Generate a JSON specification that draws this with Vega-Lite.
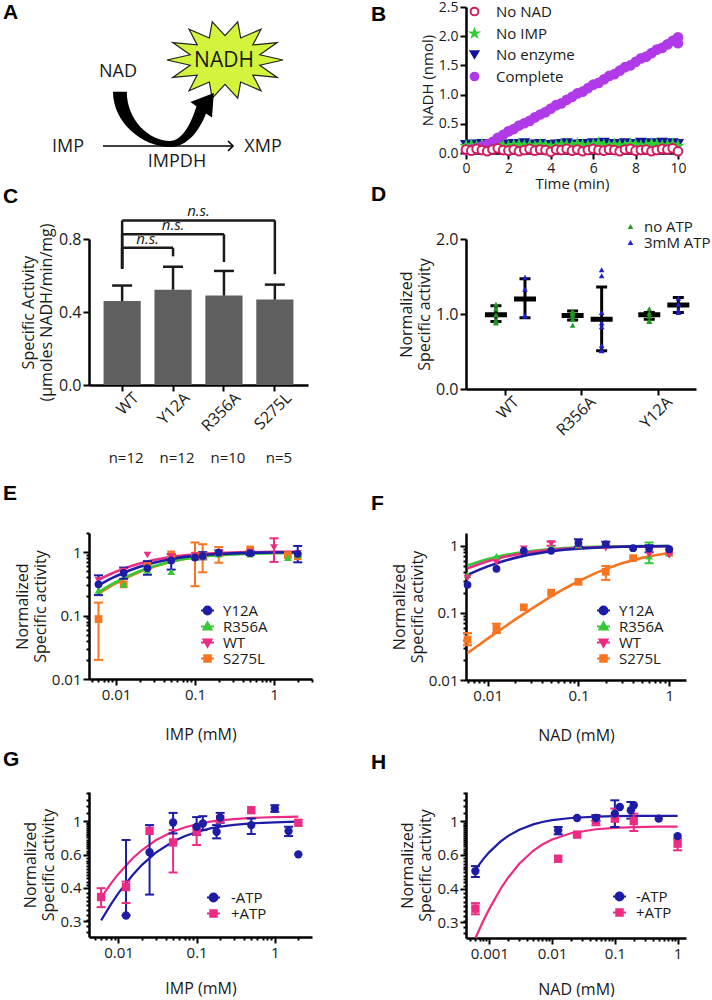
{
"$schema": "https://vega.github.io/schema/vega-lite/v6.json",
"padding": {"left": 3, "top": 0, "right": 0, "bottom": 0},
"bounds": "flush",
"align": "none",
"columns": 2,
"spacing": {"row": 0, "column": 154},
"resolve": {"scale": {"color": "independent", "shape": "independent", "stroke": "independent", "fill": "independent", "xOffset": "independent"}, "legend": {"color": "independent", "shape": "independent", "stroke": "independent", "fill": "independent"}},
"config": {
  "font": "Open Sans",
  "view": {"stroke": null},
  "axis": {"domainColor": "#000000", "domainWidth": 2.5, "tickColor": "#000000", "tickWidth": 2, "tickSize": 6, "labelColor": "#1a1a1a", "labelFont": "Open Sans", "labelFontSize": 15, "titleFont": "Open Sans", "titleFontSize": 16, "titleFontWeight": "normal", "titleColor": "#1a1a1a", "grid": false, "labelPadding": 2, "titlePadding": 4, "labelOverlap": false},
  "legend": {"labelFont": "Open Sans", "labelFontSize": 15, "labelColor": "#1a1a1a"},
  "title": {"font": "Liberation Sans", "fontSize": 21, "fontWeight": "bold", "color": "#000000", "anchor": "start", "frame": "group", "offset": 0, "baseline": "alphabetic"}
},
"datasets": {
  "b": [
    {"time":0,"series":"No enzyme","nadh":0.14},{"time":0.25,"series":"No enzyme","nadh":0.15},{"time":0.5,"series":"No enzyme","nadh":0.13},{"time":0.75,"series":"No enzyme","nadh":0.16},{"time":1,"series":"No enzyme","nadh":0.15},{"time":1.25,"series":"No enzyme","nadh":0.14},{"time":1.5,"series":"No enzyme","nadh":0.17},{"time":1.75,"series":"No enzyme","nadh":0.15},{"time":2,"series":"No enzyme","nadh":0.14},{"time":2.25,"series":"No enzyme","nadh":0.16},{"time":2.5,"series":"No enzyme","nadh":0.15},{"time":2.75,"series":"No enzyme","nadh":0.17},{"time":3,"series":"No enzyme","nadh":0.14},{"time":3.25,"series":"No enzyme","nadh":0.15},{"time":3.5,"series":"No enzyme","nadh":0.16},{"time":3.75,"series":"No enzyme","nadh":0.14},{"time":4,"series":"No enzyme","nadh":0.12},{"time":4.25,"series":"No enzyme","nadh":0.15},{"time":4.5,"series":"No enzyme","nadh":0.16},{"time":4.75,"series":"No enzyme","nadh":0.17},{"time":5,"series":"No enzyme","nadh":0.15},{"time":5.25,"series":"No enzyme","nadh":0.14},{"time":5.5,"series":"No enzyme","nadh":0.16},{"time":5.75,"series":"No enzyme","nadh":0.15},{"time":6,"series":"No enzyme","nadh":0.17},{"time":6.25,"series":"No enzyme","nadh":0.16},{"time":6.5,"series":"No enzyme","nadh":0.18},{"time":6.75,"series":"No enzyme","nadh":0.15},{"time":7,"series":"No enzyme","nadh":0.16},{"time":7.25,"series":"No enzyme","nadh":0.14},{"time":7.5,"series":"No enzyme","nadh":0.17},{"time":7.75,"series":"No enzyme","nadh":0.15},{"time":8,"series":"No enzyme","nadh":0.16},{"time":8.25,"series":"No enzyme","nadh":0.18},{"time":8.5,"series":"No enzyme","nadh":0.15},{"time":8.75,"series":"No enzyme","nadh":0.17},{"time":9,"series":"No enzyme","nadh":0.16},{"time":9.25,"series":"No enzyme","nadh":0.18},{"time":9.5,"series":"No enzyme","nadh":0.15},{"time":9.75,"series":"No enzyme","nadh":0.17},{"time":10,"series":"No enzyme","nadh":0.16},
    {"time":0,"series":"No IMP","nadh":0.12},{"time":0.25,"series":"No IMP","nadh":0.13},{"time":0.5,"series":"No IMP","nadh":0.11},{"time":0.75,"series":"No IMP","nadh":0.14},{"time":1,"series":"No IMP","nadh":0.12},{"time":1.25,"series":"No IMP","nadh":0.13},{"time":1.5,"series":"No IMP","nadh":0.15},{"time":1.75,"series":"No IMP","nadh":0.12},{"time":2,"series":"No IMP","nadh":0.11},{"time":2.25,"series":"No IMP","nadh":0.13},{"time":2.5,"series":"No IMP","nadh":0.14},{"time":2.75,"series":"No IMP","nadh":0.12},{"time":3,"series":"No IMP","nadh":0.13},{"time":3.25,"series":"No IMP","nadh":0.11},{"time":3.5,"series":"No IMP","nadh":0.14},{"time":3.75,"series":"No IMP","nadh":0.13},{"time":4,"series":"No IMP","nadh":0.1},{"time":4.25,"series":"No IMP","nadh":0.12},{"time":4.5,"series":"No IMP","nadh":0.14},{"time":4.75,"series":"No IMP","nadh":0.13},{"time":5,"series":"No IMP","nadh":0.12},{"time":5.25,"series":"No IMP","nadh":0.15},{"time":5.5,"series":"No IMP","nadh":0.13},{"time":5.75,"series":"No IMP","nadh":0.12},{"time":6,"series":"No IMP","nadh":0.14},{"time":6.25,"series":"No IMP","nadh":0.16},{"time":6.5,"series":"No IMP","nadh":0.13},{"time":6.75,"series":"No IMP","nadh":0.12},{"time":7,"series":"No IMP","nadh":0.14},{"time":7.25,"series":"No IMP","nadh":0.13},{"time":7.5,"series":"No IMP","nadh":0.12},{"time":7.75,"series":"No IMP","nadh":0.15},{"time":8,"series":"No IMP","nadh":0.14},{"time":8.25,"series":"No IMP","nadh":0.12},{"time":8.5,"series":"No IMP","nadh":0.13},{"time":8.75,"series":"No IMP","nadh":0.15},{"time":9,"series":"No IMP","nadh":0.14},{"time":9.25,"series":"No IMP","nadh":0.12},{"time":9.5,"series":"No IMP","nadh":0.13},{"time":9.75,"series":"No IMP","nadh":0.14},{"time":10,"series":"No IMP","nadh":0.12},
    {"time":0,"series":"Complete","nadh":0.05},{"time":0.25,"series":"Complete","nadh":0.06},{"time":0.5,"series":"Complete","nadh":0.08},{"time":0.75,"series":"Complete","nadh":0.11},{"time":1,"series":"Complete","nadh":0.15},{"time":1.25,"series":"Complete","nadh":0.19},{"time":1.5,"series":"Complete","nadh":0.26},{"time":1.75,"series":"Complete","nadh":0.31},{"time":2,"series":"Complete","nadh":0.37},{"time":2.25,"series":"Complete","nadh":0.41},{"time":2.5,"series":"Complete","nadh":0.47},{"time":2.75,"series":"Complete","nadh":0.51},{"time":3,"series":"Complete","nadh":0.55},{"time":3.25,"series":"Complete","nadh":0.61},{"time":3.5,"series":"Complete","nadh":0.66},{"time":3.75,"series":"Complete","nadh":0.7},{"time":4,"series":"Complete","nadh":0.76},{"time":4.25,"series":"Complete","nadh":0.82},{"time":4.5,"series":"Complete","nadh":0.85},{"time":4.75,"series":"Complete","nadh":0.91},{"time":5,"series":"Complete","nadh":0.96},{"time":5.25,"series":"Complete","nadh":1.02},{"time":5.5,"series":"Complete","nadh":1.05},{"time":5.75,"series":"Complete","nadh":1.11},{"time":6,"series":"Complete","nadh":1.17},{"time":6.25,"series":"Complete","nadh":1.2},{"time":6.5,"series":"Complete","nadh":1.26},{"time":6.75,"series":"Complete","nadh":1.32},{"time":7,"series":"Complete","nadh":1.35},{"time":7.25,"series":"Complete","nadh":1.41},{"time":7.5,"series":"Complete","nadh":1.47},{"time":7.75,"series":"Complete","nadh":1.5},{"time":8,"series":"Complete","nadh":1.56},{"time":8.25,"series":"Complete","nadh":1.62},{"time":8.5,"series":"Complete","nadh":1.65},{"time":8.75,"series":"Complete","nadh":1.71},{"time":9,"series":"Complete","nadh":1.77},{"time":9.25,"series":"Complete","nadh":1.8},{"time":9.5,"series":"Complete","nadh":1.86},{"time":9.75,"series":"Complete","nadh":1.92},{"time":10,"series":"Complete","nadh":1.98},{"time":10,"series":"Complete","nadh":1.88},
    {"time":0,"series":"No NAD","nadh":0.06},{"time":0.25,"series":"No NAD","nadh":0.04},{"time":0.5,"series":"No NAD","nadh":0.07},{"time":0.75,"series":"No NAD","nadh":0.05},{"time":1,"series":"No NAD","nadh":0.03},{"time":1.25,"series":"No NAD","nadh":0.06},{"time":1.5,"series":"No NAD","nadh":0.08},{"time":1.75,"series":"No NAD","nadh":0.05},{"time":2,"series":"No NAD","nadh":0.04},{"time":2.25,"series":"No NAD","nadh":0.06},{"time":2.5,"series":"No NAD","nadh":0.03},{"time":2.75,"series":"No NAD","nadh":0.05},{"time":3,"series":"No NAD","nadh":0.07},{"time":3.25,"series":"No NAD","nadh":0.04},{"time":3.5,"series":"No NAD","nadh":0.06},{"time":3.75,"series":"No NAD","nadh":0.05},{"time":4,"series":"No NAD","nadh":0.02},{"time":4.25,"series":"No NAD","nadh":0.06},{"time":4.5,"series":"No NAD","nadh":0.05},{"time":4.75,"series":"No NAD","nadh":0.07},{"time":5,"series":"No NAD","nadh":0.04},{"time":5.25,"series":"No NAD","nadh":0.06},{"time":5.5,"series":"No NAD","nadh":0.03},{"time":5.75,"series":"No NAD","nadh":0.05},{"time":6,"series":"No NAD","nadh":0.07},{"time":6.25,"series":"No NAD","nadh":0.05},{"time":6.5,"series":"No NAD","nadh":0.04},{"time":6.75,"series":"No NAD","nadh":0.06},{"time":7,"series":"No NAD","nadh":0.05},{"time":7.25,"series":"No NAD","nadh":0.03},{"time":7.5,"series":"No NAD","nadh":0.06},{"time":7.75,"series":"No NAD","nadh":0.07},{"time":8,"series":"No NAD","nadh":0.04},{"time":8.25,"series":"No NAD","nadh":0.05},{"time":8.5,"series":"No NAD","nadh":0.06},{"time":8.75,"series":"No NAD","nadh":0.03},{"time":9,"series":"No NAD","nadh":0.05},{"time":9.25,"series":"No NAD","nadh":0.07},{"time":9.5,"series":"No NAD","nadh":0.06},{"time":9.75,"series":"No NAD","nadh":0.08},{"time":10,"series":"No NAD","nadh":0.03}
  ],
  "c": [
    {"mutant":"WT","activity":0.46,"err":0.545,"n":"n=12"},
    {"mutant":"Y12A","activity":0.522,"err":0.648,"n":"n=12"},
    {"mutant":"R356A","activity":0.49,"err":0.625,"n":"n=10"},
    {"mutant":"S275L","activity":0.468,"err":0.55,"n":"n=5"}
  ],
  "c_sig": [
    {"left":1,"right":2,"mid":1.5,"base":0.637,"level":0.752,"tip":0.705,"label":"n.s."},
    {"left":1,"right":3,"mid":2,"base":0.637,"level":0.826,"tip":0.674,"label":"n.s."},
    {"left":1,"right":4,"mid":2.5,"base":0.637,"level":0.902,"tip":0.607,"label":"n.s."}
  ],
  "d_pts": [
    {"mutant":"WT","atp":"no ATP","value":1.13},{"mutant":"WT","atp":"no ATP","value":1.07},{"mutant":"WT","atp":"no ATP","value":0.99},{"mutant":"WT","atp":"no ATP","value":0.92},{"mutant":"WT","atp":"no ATP","value":0.89},{"mutant":"WT","atp":"no ATP","value":0.88},
    {"mutant":"WT","atp":"3mM ATP","value":1.49},{"mutant":"WT","atp":"3mM ATP","value":1.33},{"mutant":"WT","atp":"3mM ATP","value":0.97},{"mutant":"WT","atp":"3mM ATP","value":0.98},
    {"mutant":"R356A","atp":"no ATP","value":1.04},{"mutant":"R356A","atp":"no ATP","value":1.02},{"mutant":"R356A","atp":"no ATP","value":1.0},{"mutant":"R356A","atp":"no ATP","value":0.97},{"mutant":"R356A","atp":"no ATP","value":0.93},{"mutant":"R356A","atp":"no ATP","value":0.85},
    {"mutant":"R356A","atp":"3mM ATP","value":1.59},{"mutant":"R356A","atp":"3mM ATP","value":1.51},{"mutant":"R356A","atp":"3mM ATP","value":1.02},{"mutant":"R356A","atp":"3mM ATP","value":0.88},{"mutant":"R356A","atp":"3mM ATP","value":0.83},{"mutant":"R356A","atp":"3mM ATP","value":0.58},{"mutant":"R356A","atp":"3mM ATP","value":0.51},{"mutant":"R356A","atp":"3mM ATP","value":0.52},
    {"mutant":"Y12A","atp":"no ATP","value":1.07},{"mutant":"Y12A","atp":"no ATP","value":1.01},{"mutant":"Y12A","atp":"no ATP","value":0.97},{"mutant":"Y12A","atp":"no ATP","value":0.91},{"mutant":"Y12A","atp":"no ATP","value":0.9},
    {"mutant":"Y12A","atp":"3mM ATP","value":1.21},{"mutant":"Y12A","atp":"3mM ATP","value":1.13},{"mutant":"Y12A","atp":"3mM ATP","value":1.02},{"mutant":"Y12A","atp":"3mM ATP","value":1.05}
  ],
  "d_sum": [
    {"mutant":"WT","atp":"no ATP","mean":0.99,"lo":0.9,"hi":1.11},
    {"mutant":"WT","atp":"3mM ATP","mean":1.2,"lo":0.95,"hi":1.47},
    {"mutant":"R356A","atp":"no ATP","mean":0.98,"lo":0.92,"hi":1.04},
    {"mutant":"R356A","atp":"3mM ATP","mean":0.93,"lo":0.51,"hi":1.36},
    {"mutant":"Y12A","atp":"no ATP","mean":0.99,"lo":0.93,"hi":1.02},
    {"mutant":"Y12A","atp":"3mM ATP","mean":1.12,"lo":1.02,"hi":1.22}
  ],
  "e_fit": [
    {"series":"S275L","conc":0.006,"fit":0.222},{"series":"S275L","conc":0.008,"fit":0.276},{"series":"S275L","conc":0.01,"fit":0.323},{"series":"S275L","conc":0.015,"fit":0.417},{"series":"S275L","conc":0.02,"fit":0.488},{"series":"S275L","conc":0.03,"fit":0.588},{"series":"S275L","conc":0.05,"fit":0.704},{"series":"S275L","conc":0.07,"fit":0.769},{"series":"S275L","conc":0.1,"fit":0.826},{"series":"S275L","conc":0.15,"fit":0.877},{"series":"S275L","conc":0.2,"fit":0.905},{"series":"S275L","conc":0.3,"fit":0.935},{"series":"S275L","conc":0.5,"fit":0.96},{"series":"S275L","conc":0.7,"fit":0.971},{"series":"S275L","conc":1,"fit":0.979},{"series":"S275L","conc":1.5,"fit":0.986},{"series":"S275L","conc":2,"fit":0.99},
    {"series":"R356A","conc":0.006,"fit":0.235},{"series":"R356A","conc":0.008,"fit":0.29},{"series":"R356A","conc":0.01,"fit":0.338},{"series":"R356A","conc":0.015,"fit":0.432},{"series":"R356A","conc":0.02,"fit":0.503},{"series":"R356A","conc":0.03,"fit":0.6},{"series":"R356A","conc":0.05,"fit":0.71},{"series":"R356A","conc":0.07,"fit":0.771},{"series":"R356A","conc":0.1,"fit":0.824},{"series":"R356A","conc":0.15,"fit":0.87},{"series":"R356A","conc":0.2,"fit":0.895},{"series":"R356A","conc":0.3,"fit":0.922},{"series":"R356A","conc":0.5,"fit":0.944},{"series":"R356A","conc":0.7,"fit":0.954},{"series":"R356A","conc":1,"fit":0.962},{"series":"R356A","conc":1.5,"fit":0.968},{"series":"R356A","conc":2,"fit":0.971},
    {"series":"WT","conc":0.006,"fit":0.366},{"series":"WT","conc":0.008,"fit":0.436},{"series":"WT","conc":0.01,"fit":0.493},{"series":"WT","conc":0.015,"fit":0.595},{"series":"WT","conc":0.02,"fit":0.664},{"series":"WT","conc":0.03,"fit":0.752},{"series":"WT","conc":0.05,"fit":0.84},{"series":"WT","conc":0.07,"fit":0.885},{"series":"WT","conc":0.1,"fit":0.921},{"series":"WT","conc":0.15,"fit":0.952},{"series":"WT","conc":0.2,"fit":0.968},{"series":"WT","conc":0.3,"fit":0.985},{"series":"WT","conc":0.5,"fit":0.999},{"series":"WT","conc":0.7,"fit":1.005},{"series":"WT","conc":1,"fit":1.009},{"series":"WT","conc":1.5,"fit":1.013},{"series":"WT","conc":2,"fit":1.015},
    {"series":"Y12A","conc":0.006,"fit":0.3},{"series":"Y12A","conc":0.008,"fit":0.364},{"series":"Y12A","conc":0.01,"fit":0.417},{"series":"Y12A","conc":0.015,"fit":0.517},{"series":"Y12A","conc":0.02,"fit":0.588},{"series":"Y12A","conc":0.03,"fit":0.682},{"series":"Y12A","conc":0.05,"fit":0.781},{"series":"Y12A","conc":0.07,"fit":0.833},{"series":"Y12A","conc":0.1,"fit":0.877},{"series":"Y12A","conc":0.15,"fit":0.915},{"series":"Y12A","conc":0.2,"fit":0.935},{"series":"Y12A","conc":0.3,"fit":0.955},{"series":"Y12A","conc":0.5,"fit":0.973},{"series":"Y12A","conc":0.7,"fit":0.98},{"series":"Y12A","conc":1,"fit":0.986},{"series":"Y12A","conc":1.5,"fit":0.991},{"series":"Y12A","conc":2,"fit":0.993}
  ],
  "e_pts": [
    {"series":"S275L","conc":0.006,"activity":0.088,"lo":0.02,"hi":0.16},{"series":"S275L","conc":0.0125,"activity":0.31},{"series":"S275L","conc":0.025,"activity":0.6},{"series":"S275L","conc":0.05,"activity":0.92},{"series":"S275L","conc":0.1,"activity":0.88,"lo":0.29,"hi":1.42},{"series":"S275L","conc":0.125,"activity":0.86,"lo":0.48,"hi":1.33},{"series":"S275L","conc":0.2,"activity":0.97,"lo":0.68,"hi":1.2},{"series":"S275L","conc":0.5,"activity":1.1},{"series":"S275L","conc":1.5,"activity":0.9},{"series":"S275L","conc":2,"activity":0.86},
    {"series":"R356A","conc":0.006,"activity":0.25},{"series":"R356A","conc":0.0125,"activity":0.31},{"series":"R356A","conc":0.025,"activity":0.52},{"series":"R356A","conc":0.05,"activity":0.49},{"series":"R356A","conc":0.1,"activity":0.83},{"series":"R356A","conc":0.125,"activity":0.86},{"series":"R356A","conc":0.2,"activity":0.93},{"series":"R356A","conc":0.5,"activity":0.93},{"series":"R356A","conc":1.5,"activity":0.82},{"series":"R356A","conc":2,"activity":0.9},
    {"series":"WT","conc":0.006,"activity":0.36},{"series":"WT","conc":0.0125,"activity":0.5},{"series":"WT","conc":0.025,"activity":0.9},{"series":"WT","conc":0.05,"activity":0.85},{"series":"WT","conc":0.1,"activity":0.88},{"series":"WT","conc":0.2,"activity":0.96},{"series":"WT","conc":0.5,"activity":1.0},{"series":"WT","conc":1,"activity":1.18,"lo":0.7,"hi":1.65},{"series":"WT","conc":2,"activity":0.95},
    {"series":"Y12A","conc":0.006,"activity":0.31,"lo":0.21,"hi":0.43},{"series":"Y12A","conc":0.0125,"activity":0.47,"lo":0.38,"hi":0.57},{"series":"Y12A","conc":0.025,"activity":0.56,"lo":0.44,"hi":0.72},{"series":"Y12A","conc":0.05,"activity":0.74,"lo":0.53,"hi":0.93},{"series":"Y12A","conc":0.1,"activity":0.82},{"series":"Y12A","conc":0.125,"activity":0.87,"lo":0.77,"hi":1.0},{"series":"Y12A","conc":0.2,"activity":0.98,"lo":0.9,"hi":1.07},{"series":"Y12A","conc":0.5,"activity":0.96,"lo":0.9,"hi":1.03},{"series":"Y12A","conc":2,"activity":0.94,"lo":0.69,"hi":1.25}
  ],
  "f_fit": [
    {"series":"S275L","conc":0.006,"fit":0.0252},{"series":"S275L","conc":0.008,"fit":0.0333},{"series":"S275L","conc":0.01,"fit":0.0413},{"series":"S275L","conc":0.015,"fit":0.0606},{"series":"S275L","conc":0.02,"fit":0.0792},{"series":"S275L","conc":0.03,"fit":0.114},{"series":"S275L","conc":0.05,"fit":0.176},{"series":"S275L","conc":0.07,"fit":0.229},{"series":"S275L","conc":0.1,"fit":0.297},{"series":"S275L","conc":0.15,"fit":0.385},{"series":"S275L","conc":0.2,"fit":0.452},{"series":"S275L","conc":0.3,"fit":0.548},{"series":"S275L","conc":0.5,"fit":0.66},{"series":"S275L","conc":0.7,"fit":0.723},{"series":"S275L","conc":1,"fit":0.779},
    {"series":"R356A","conc":0.006,"fit":0.508},{"series":"R356A","conc":0.008,"fit":0.58},{"series":"R356A","conc":0.01,"fit":0.633},{"series":"R356A","conc":0.015,"fit":0.721},{"series":"R356A","conc":0.02,"fit":0.775},{"series":"R356A","conc":0.03,"fit":0.838},{"series":"R356A","conc":0.05,"fit":0.896},{"series":"R356A","conc":0.07,"fit":0.923},{"series":"R356A","conc":0.1,"fit":0.945},{"series":"R356A","conc":0.15,"fit":0.963},{"series":"R356A","conc":0.2,"fit":0.972},{"series":"R356A","conc":0.3,"fit":0.981},{"series":"R356A","conc":0.5,"fit":0.989},{"series":"R356A","conc":0.7,"fit":0.992},{"series":"R356A","conc":1,"fit":0.994},
    {"series":"WT","conc":0.006,"fit":0.46},{"series":"WT","conc":0.008,"fit":0.532},{"series":"WT","conc":0.01,"fit":0.586},{"series":"WT","conc":0.015,"fit":0.678},{"series":"WT","conc":0.02,"fit":0.736},{"series":"WT","conc":0.03,"fit":0.805},{"series":"WT","conc":0.05,"fit":0.87},{"series":"WT","conc":0.07,"fit":0.901},{"series":"WT","conc":0.1,"fit":0.926},{"series":"WT","conc":0.15,"fit":0.946},{"series":"WT","conc":0.2,"fit":0.957},{"series":"WT","conc":0.3,"fit":0.968},{"series":"WT","conc":0.5,"fit":0.977},{"series":"WT","conc":0.7,"fit":0.98},{"series":"WT","conc":1,"fit":0.983},
    {"series":"Y12A","conc":0.006,"fit":0.368},{"series":"Y12A","conc":0.008,"fit":0.437},{"series":"Y12A","conc":0.01,"fit":0.493},{"series":"Y12A","conc":0.015,"fit":0.593},{"series":"Y12A","conc":0.02,"fit":0.66},{"series":"Y12A","conc":0.03,"fit":0.745},{"series":"Y12A","conc":0.05,"fit":0.829},{"series":"Y12A","conc":0.07,"fit":0.871},{"series":"Y12A","conc":0.1,"fit":0.906},{"series":"Y12A","conc":0.15,"fit":0.935},{"series":"Y12A","conc":0.2,"fit":0.951},{"series":"Y12A","conc":0.3,"fit":0.966},{"series":"Y12A","conc":0.5,"fit":0.98},{"series":"Y12A","conc":0.7,"fit":0.986},{"series":"Y12A","conc":1,"fit":0.99}
  ],
  "f_pts": [
    {"series":"S275L","conc":0.006,"activity":0.04,"lo":0.033,"hi":0.05},{"series":"S275L","conc":0.0125,"activity":0.059,"lo":0.05,"hi":0.069},{"series":"S275L","conc":0.025,"activity":0.121},{"series":"S275L","conc":0.05,"activity":0.2},{"series":"S275L","conc":0.1,"activity":0.29},{"series":"S275L","conc":0.2,"activity":0.41,"lo":0.31,"hi":0.5},{"series":"S275L","conc":0.4,"activity":0.655},{"series":"S275L","conc":1,"activity":0.79},
    {"series":"R356A","conc":0.006,"activity":0.37},{"series":"R356A","conc":0.0125,"activity":0.7},{"series":"R356A","conc":0.025,"activity":0.86},{"series":"R356A","conc":0.05,"activity":0.98},{"series":"R356A","conc":0.1,"activity":1.02},{"series":"R356A","conc":0.2,"activity":1.1},{"series":"R356A","conc":0.6,"activity":0.7,"lo":0.55,"hi":1.12},{"series":"R356A","conc":1,"activity":0.78},
    {"series":"WT","conc":0.006,"activity":0.33},{"series":"WT","conc":0.0125,"activity":0.56},{"series":"WT","conc":0.025,"activity":0.9},{"series":"WT","conc":0.05,"activity":1.08,"lo":1.0,"hi":1.15},{"series":"WT","conc":0.1,"activity":1.0},{"series":"WT","conc":0.2,"activity":0.92},{"series":"WT","conc":0.6,"activity":0.74},{"series":"WT","conc":1,"activity":0.72},
    {"series":"Y12A","conc":0.006,"activity":0.262},{"series":"Y12A","conc":0.0125,"activity":0.454},{"series":"Y12A","conc":0.025,"activity":0.84},{"series":"Y12A","conc":0.05,"activity":0.84},{"series":"Y12A","conc":0.1,"activity":1.1,"lo":0.97,"hi":1.25},{"series":"Y12A","conc":0.2,"activity":1.05,"lo":0.95,"hi":1.15},{"series":"Y12A","conc":0.4,"activity":0.92},{"series":"Y12A","conc":0.6,"activity":0.91,"lo":0.8,"hi":1.02},{"series":"Y12A","conc":1,"activity":0.89}
  ],
  "g_fit": [
    {"series":"+ATP","conc":0.006,"fit":0.395},{"series":"+ATP","conc":0.008,"fit":0.468},{"series":"+ATP","conc":0.01,"fit":0.527},{"series":"+ATP","conc":0.015,"fit":0.633},{"series":"+ATP","conc":0.02,"fit":0.704},{"series":"+ATP","conc":0.03,"fit":0.793},{"series":"+ATP","conc":0.05,"fit":0.882},{"series":"+ATP","conc":0.07,"fit":0.926},{"series":"+ATP","conc":0.1,"fit":0.963},{"series":"+ATP","conc":0.15,"fit":0.993},{"series":"+ATP","conc":0.2,"fit":1.009},{"series":"+ATP","conc":0.3,"fit":1.025},{"series":"+ATP","conc":0.5,"fit":1.039},{"series":"+ATP","conc":0.7,"fit":1.045},{"series":"+ATP","conc":1,"fit":1.049},{"series":"+ATP","conc":1.5,"fit":1.053},{"series":"+ATP","conc":2,"fit":1.055},
    {"series":"-ATP","conc":0.006,"fit":0.3},{"series":"-ATP","conc":0.008,"fit":0.364},{"series":"-ATP","conc":0.01,"fit":0.417},{"series":"-ATP","conc":0.015,"fit":0.517},{"series":"-ATP","conc":0.02,"fit":0.588},{"series":"-ATP","conc":0.03,"fit":0.682},{"series":"-ATP","conc":0.05,"fit":0.781},{"series":"-ATP","conc":0.07,"fit":0.833},{"series":"-ATP","conc":0.1,"fit":0.877},{"series":"-ATP","conc":0.15,"fit":0.915},{"series":"-ATP","conc":0.2,"fit":0.935},{"series":"-ATP","conc":0.3,"fit":0.955},{"series":"-ATP","conc":0.5,"fit":0.973},{"series":"-ATP","conc":0.7,"fit":0.98},{"series":"-ATP","conc":1,"fit":0.986},{"series":"-ATP","conc":1.5,"fit":0.991},{"series":"-ATP","conc":2,"fit":0.993}
  ],
  "g_pts": [
    {"series":"+ATP","conc":0.006,"activity":0.398,"lo":0.352,"hi":0.443},{"series":"+ATP","conc":0.0125,"activity":0.449,"lo":0.37,"hi":0.48},{"series":"+ATP","conc":0.025,"activity":0.889},{"series":"+ATP","conc":0.05,"activity":0.772,"lo":0.536,"hi":0.897},{"series":"+ATP","conc":0.1,"activity":0.879,"lo":0.748,"hi":0.934},{"series":"+ATP","conc":0.2,"activity":1.024},{"series":"+ATP","conc":0.5,"activity":1.142},{"series":"+ATP","conc":2,"activity":0.98},
    {"series":"-ATP","conc":0.0125,"activity":0.318,"lo":0.318,"hi":0.795},{"series":"-ATP","conc":0.025,"activity":0.685,"lo":0.41,"hi":0.953},{"series":"-ATP","conc":0.05,"activity":0.983,"lo":0.861,"hi":1.105},{"series":"-ATP","conc":0.1,"activity":0.934,"lo":0.845,"hi":1.05},{"series":"-ATP","conc":0.12,"activity":0.971,"lo":0.897,"hi":1.062},{"series":"-ATP","conc":0.18,"activity":0.879,"lo":0.811,"hi":0.953},{"series":"-ATP","conc":0.2,"activity":1.044,"lo":0.98,"hi":1.105},{"series":"-ATP","conc":0.5,"activity":0.953,"lo":0.855,"hi":1.032},{"series":"-ATP","conc":1,"activity":1.164,"lo":1.119,"hi":1.213},{"series":"-ATP","conc":1.5,"activity":0.886,"lo":0.834,"hi":0.934},{"series":"-ATP","conc":2,"activity":0.668}
  ],
  "h_fit": [
    {"series":"+ATP","conc":0.0006,"fit":0.245},{"series":"+ATP","conc":0.0008,"fit":0.301},{"series":"+ATP","conc":0.001,"fit":0.348},{"series":"+ATP","conc":0.0015,"fit":0.441},{"series":"+ATP","conc":0.002,"fit":0.508},{"series":"+ATP","conc":0.003,"fit":0.6},{"series":"+ATP","conc":0.005,"fit":0.701},{"series":"+ATP","conc":0.007,"fit":0.756},{"series":"+ATP","conc":0.01,"fit":0.803},{"series":"+ATP","conc":0.02,"fit":0.866},{"series":"+ATP","conc":0.05,"fit":0.909},{"series":"+ATP","conc":0.1,"fit":0.924},{"series":"+ATP","conc":0.2,"fit":0.932},{"series":"+ATP","conc":0.5,"fit":0.937},{"series":"+ATP","conc":1,"fit":0.938},
    {"series":"-ATP","conc":0.0006,"fit":0.558},{"series":"-ATP","conc":0.0008,"fit":0.634},{"series":"-ATP","conc":0.001,"fit":0.69},{"series":"-ATP","conc":0.0015,"fit":0.783},{"series":"-ATP","conc":0.002,"fit":0.839},{"series":"-ATP","conc":0.003,"fit":0.904},{"series":"-ATP","conc":0.005,"fit":0.964},{"series":"-ATP","conc":0.007,"fit":0.992},{"series":"-ATP","conc":0.01,"fit":1.014},{"series":"-ATP","conc":0.02,"fit":1.041},{"series":"-ATP","conc":0.05,"fit":1.058},{"series":"-ATP","conc":0.1,"fit":1.064},{"series":"-ATP","conc":0.2,"fit":1.067},{"series":"-ATP","conc":0.5,"fit":1.069},{"series":"-ATP","conc":1,"fit":1.069}
  ],
  "h_pts": [
    {"series":"+ATP","conc":0.0006,"activity":0.349,"lo":0.326,"hi":0.373},{"series":"+ATP","conc":0.0125,"activity":0.637},{"series":"+ATP","conc":0.025,"activity":0.852},{"series":"+ATP","conc":0.05,"activity":1.012,"lo":0.953,"hi":1.075},{"series":"+ATP","conc":0.1,"activity":1.033,"lo":0.934,"hi":1.166},{"series":"+ATP","conc":0.2,"activity":1.004,"lo":0.89,"hi":1.097},{"series":"+ATP","conc":1,"activity":0.764,"lo":0.705,"hi":0.811},
    {"series":"-ATP","conc":0.0006,"activity":0.549,"lo":0.511,"hi":0.583},{"series":"-ATP","conc":0.0125,"activity":0.897,"lo":0.855,"hi":0.934},{"series":"-ATP","conc":0.025,"activity":1.041},{"series":"-ATP","conc":0.05,"activity":1.041,"lo":1.004,"hi":1.075},{"series":"-ATP","conc":0.1,"activity":1.097,"lo":0.934,"hi":1.288},{"series":"-ATP","conc":0.12,"activity":1.188},{"series":"-ATP","conc":0.18,"activity":1.142,"lo":1.033,"hi":1.262},{"series":"-ATP","conc":0.2,"activity":1.213},{"series":"-ATP","conc":0.5,"activity":1.033},{"series":"-ATP","conc":1,"activity":0.837}
  ]
},
"concat": [
  {
    "width": 223, "height": 146,
    "title": {"text": "A", "dx": -86, "dy": 20},
    "encoding": {
      "x": {"field": "x", "type": "quantitative", "scale": {"domain": [8.9, 31.2], "nice": false, "zero": false}, "axis": null},
      "y": {"field": "y", "type": "quantitative", "scale": {"domain": [0.8, 15.4], "nice": false, "zero": false, "reverse": true}, "axis": null}
    },
    "layer": [
      {"data": {"values": [{"x": 22.5, "y": 6.1}]}, "mark": {"type": "point", "shape": "M1,0L0.6,0.09L0.9,0.3L0.48,0.26L0.62,0.53L0.27,0.38L0.22,0.66L0,0.42L-0.22,0.66L-0.27,0.38L-0.62,0.53L-0.48,0.26L-0.9,0.3L-0.6,0.09L-1,0L-0.6,-0.09L-0.9,-0.3L-0.48,-0.26L-0.62,-0.53L-0.27,-0.38L-0.22,-0.66L0,-0.42L0.22,-0.66L0.27,-0.38L0.62,-0.53L0.48,-0.26L0.9,-0.3L0.6,-0.09Z", "size": 13456, "filled": true, "fill": "#d2f43c", "stroke": "#222222", "strokeWidth": 1.2, "opacity": 1}},
      {"data": {"values": [{"x": 22.4, "y": 6.2, "label": "NADH"}]}, "mark": {"type": "text", "fontSize": 21, "color": "#1a1a1a"}, "encoding": {"text": {"field": "label"}}},
      {"data": {"values": [{"x": 17.0, "y": 11.5}]}, "mark": {"type": "point", "shape": "M-0.95,-0.37C-0.95,0.15,-0.45,0.55,0,0.55C0.3,0.55,0.5,0.25,0.6,-0.01L0.7,0.06L0.73,-0.35L0.34,-0.2L0.44,-0.13C0.36,0.15,0.2,0.45,0,0.45C-0.35,0.45,-0.72,0.1,-0.72,-0.37Z", "size": 14400, "filled": true, "color": "#000000", "opacity": 1}},
      {"data": {"values": [{"x": 10.3, "x2": 23.2, "y": 14.7}]}, "mark": {"type": "rule", "strokeWidth": 1.6, "color": "#000000"}, "encoding": {"x2": {"field": "x2"}}},
      {"data": {"values": [{"x": 23.3, "y": 14.7}]}, "mark": {"type": "point", "shape": "M-1,-1L0,0L-1,1", "size": 100, "filled": false, "stroke": "#000000", "strokeWidth": 1.6, "opacity": 1}},
      {"data": {"values": [{"x": 11.8, "y": 7.3, "label": "NAD"}, {"x": 6.8, "y": 14.8, "label": "IMP"}, {"x": 26.3, "y": 14.8, "label": "XMP"}, {"x": 17.7, "y": 16.3, "label": "IMPDH"}]}, "mark": {"type": "text", "fontSize": 18, "color": "#1a1a1a"}, "encoding": {"text": {"field": "label"}}}
    ]
  },
  {
    "width": 212, "height": 146,
    "title": {"text": "B", "dx": -95, "dy": 29},
    "data": {"name": "b"},
    "mark": {"type": "point", "filled": false, "strokeWidth": 2, "size": 75, "opacity": 1},
    "encoding": {
      "x": {"field": "time", "type": "quantitative", "scale": {"domain": [0, 10], "nice": false}, "axis": {"title": "Time (min)", "values": [0, 2, 4, 6, 8, 10], "labelFontSize": 14, "titleFontSize": 15, "titlePadding": 1, "labelFlush": false}},
      "y": {"field": "nadh", "type": "quantitative", "scale": {"domain": [0, 2.5], "nice": false}, "axis": {"title": "NADH (nmol)", "values": [0, 0.5, 1, 1.5, 2, 2.5], "format": ".1f", "labelFontSize": 14, "titleFontSize": 15, "titlePadding": 3}},
      "stroke": {"field": "series", "type": "nominal", "scale": {"domain": ["No NAD", "No IMP", "No enzyme", "Complete"], "range": ["#cf1d5f", "#2fd02f", "#12129e", "#b03ae8"]}, "legend": {"orient": "none", "legendX": 1, "legendY": -3, "title": null, "labelFontSize": 15, "rowPadding": 5, "symbolSize": 60, "symbolStrokeWidth": 2, "labelOffset": 14}},
      "fill": {"field": "series", "type": "nominal", "scale": {"domain": ["No NAD", "No IMP", "No enzyme", "Complete"], "range": ["#ffffff", "#2fd02f", "#12129e", "#b03ae8"]}, "legend": {"orient": "none", "legendX": 1, "legendY": -3, "title": null, "labelFontSize": 15, "rowPadding": 5, "symbolSize": 60, "symbolStrokeWidth": 2, "labelOffset": 14}},
      "shape": {"field": "series", "type": "nominal", "scale": {"domain": ["No NAD", "No IMP", "No enzyme", "Complete"], "range": ["circle", "M0,-1L0.24,-0.33L0.95,-0.31L0.38,0.12L0.59,0.81L0,0.4L-0.59,0.81L-0.38,0.12L-0.95,-0.31L-0.24,-0.33Z", "triangle-down", "circle"]}, "legend": {"orient": "none", "legendX": 1, "legendY": -3, "title": null, "labelFontSize": 15, "rowPadding": 5, "symbolSize": 60, "symbolStrokeWidth": 2, "labelOffset": 14}}
    }
  },
  {"width": 10, "height": 86, "data": {"values": []}, "mark": "point"},
  {"width": 10, "height": 86, "data": {"values": []}, "mark": "point"},
  {
    "width": 219, "height": 146,
    "title": {"text": "C", "dx": -86, "dy": 7},
    "resolve": {"scale": {"x": "independent"}},
    "layer": [
      {
        "data": {"name": "c"},
        "encoding": {"x": {"field": "mutant", "type": "nominal", "sort": null, "scale": {"paddingInner": 0.27, "paddingOuter": 0.286}, "axis": {"title": null, "labelAngle": -45, "labelAlign": "right", "labelBaseline": "middle", "labelOffset": 14, "labelPadding": 4, "labelFontSize": 16}}},
        "layer": [
          {"mark": {"type": "bar", "color": "#5f5f5f"}, "encoding": {"y": {"field": "activity", "type": "quantitative", "scale": {"domain": [0, 0.8], "nice": false}, "axis": {"title": ["Specific Activity", "(µmoles NADH/min/mg)"], "values": [0, 0.2, 0.4, 0.6, 0.8], "format": ".1f", "labelFontSize": 16, "titleFontSize": 16, "titlePadding": 4}}}},
          {"mark": {"type": "rule", "strokeWidth": 2.5, "color": "#1a1a1a"}, "encoding": {"y": {"field": "activity", "type": "quantitative", "scale": {"domain": [0, 0.8], "nice": false}}, "y2": {"field": "err"}}},
          {"mark": {"type": "tick", "size": 20, "thickness": 2.5, "color": "#1a1a1a", "opacity": 1}, "encoding": {"y": {"field": "err", "type": "quantitative", "scale": {"domain": [0, 0.8], "nice": false}}}},
          {"mark": {"type": "text", "fontSize": 15, "dx": 4, "color": "#1a1a1a"}, "encoding": {"y": {"datum": -0.4, "type": "quantitative", "scale": {"domain": [0, 0.8], "nice": false}}, "text": {"field": "n"}}}
        ]
      },
      {
        "data": {"name": "c_sig"},
        "encoding": {"x": {"field": "left", "type": "quantitative", "scale": {"domain": [0.349, 4.651], "nice": false, "zero": false}, "axis": null}},
        "layer": [
          {"mark": {"type": "rule", "strokeWidth": 2.5, "color": "#1a1a1a"}, "encoding": {"x2": {"field": "right"}, "y": {"field": "level", "type": "quantitative", "scale": {"domain": [0, 0.8], "nice": false}}}},
          {"mark": {"type": "rule", "strokeWidth": 2.5, "color": "#1a1a1a"}, "encoding": {"y": {"field": "base", "type": "quantitative", "scale": {"domain": [0, 0.8], "nice": false}}, "y2": {"field": "level"}}},
          {"mark": {"type": "rule", "strokeWidth": 2.5, "color": "#1a1a1a"}, "encoding": {"x": {"field": "right", "type": "quantitative", "scale": {"domain": [0.349, 4.651], "nice": false, "zero": false}, "axis": null}, "y": {"field": "tip", "type": "quantitative", "scale": {"domain": [0, 0.8], "nice": false}}, "y2": {"field": "level"}}},
          {"mark": {"type": "text", "fontSize": 15, "fontStyle": "italic", "baseline": "bottom", "dy": -1, "color": "#1a1a1a"}, "encoding": {"x": {"field": "mid", "type": "quantitative", "scale": {"domain": [0.349, 4.651], "nice": false, "zero": false}, "axis": null}, "y": {"field": "level", "type": "quantitative", "scale": {"domain": [0, 0.8], "nice": false}}, "text": {"field": "label"}}}
        ]
      }
    ]
  },
  {
    "width": 230, "height": 150,
    "title": {"text": "D", "dx": -95, "dy": -10},
    "encoding": {
      "x": {"field": "mutant", "type": "nominal", "scale": {"domain": ["WT", "R356A", "Y12A"], "paddingInner": 0, "paddingOuter": 0}, "axis": {"title": null, "labelAngle": -45, "labelAlign": "right", "labelBaseline": "middle", "labelOffset": 12, "labelPadding": 4, "labelFontSize": 16, "bandPosition": 0.51}},
      "xOffset": {"field": "atp", "type": "nominal", "scale": {"domain": ["no ATP", "3mM ATP"], "paddingInner": 0, "paddingOuter": 0.32, "align": 0.83}}
    },
    "layer": [
      {
        "data": {"name": "d_sum"},
        "layer": [
          {"mark": {"type": "rule", "strokeWidth": 3, "color": "#000000"}, "encoding": {"y": {"field": "lo", "type": "quantitative", "scale": {"domain": [0, 2], "nice": false}, "axis": {"title": ["Normalized", "Specific activity"], "values": [0, 0.5, 1, 1.5, 2], "format": ".1f", "labelFontSize": 16, "titlePadding": 3}}, "y2": {"field": "hi"}}},
          {"mark": {"type": "tick", "size": 11, "thickness": 3, "color": "#000000", "opacity": 1}, "encoding": {"y": {"field": "lo", "type": "quantitative", "scale": {"domain": [0, 2], "nice": false}}}},
          {"mark": {"type": "tick", "size": 11, "thickness": 3, "color": "#000000", "opacity": 1}, "encoding": {"y": {"field": "hi", "type": "quantitative", "scale": {"domain": [0, 2], "nice": false}}}},
          {"mark": {"type": "tick", "size": 22, "thickness": 5, "color": "#000000", "opacity": 1}, "encoding": {"y": {"field": "mean", "type": "quantitative", "scale": {"domain": [0, 2], "nice": false}}}}
        ]
      },
      {
        "data": {"name": "d_pts"},
        "mark": {"type": "point", "shape": "triangle-up", "filled": true, "size": 32, "opacity": 1},
        "encoding": {
          "y": {"field": "value", "type": "quantitative", "scale": {"domain": [0, 2], "nice": false}},
          "color": {"field": "atp", "type": "nominal", "scale": {"domain": ["no ATP", "3mM ATP"], "range": ["#209a20", "#1e1ed0"]}, "legend": {"orient": "none", "legendX": 157, "legendY": -20, "title": null, "symbolType": "triangle-up", "symbolSize": 32, "labelFontSize": 15, "rowPadding": 0, "labelOffset": 6}}
        }
      }
    ]
  },
  {"width": 10, "height": 144, "data": {"values": []}, "mark": "point"},
  {"width": 10, "height": 144, "data": {"values": []}, "mark": "point"},
  {
    "width": 223, "height": 146,
    "title": {"text": "E", "dx": -86, "dy": -18},
    "resolve": {"scale": {"shape": "independent", "fill": "independent", "stroke": "independent"}},
    "encoding": {
      "x": {"field": "conc", "type": "quantitative", "scale": {"type": "log", "domain": [0.00455, 3.03], "nice": false}, "axis": {"title": "IMP (mM)", "values": [0.005,0.006,0.007,0.008,0.009,0.01,0.02,0.03,0.04,0.05,0.06,0.07,0.08,0.09,0.1,0.2,0.3,0.4,0.5,0.6,0.7,0.8,0.9,1,2,3], "labelExpr": "datum.value == 1 ? '1' : datum.value == 0.1 ? '0.1' : datum.value == 0.01 ? '0.01' : ''", "tickSize": {"condition": {"test": "indexof([0.01,0.1,1], datum.value) >= 0", "value": 6}, "value": 3}, "labelOverlap": false, "labelFlush": false, "titlePadding": 24}},
      "color": {"field": "series", "type": "nominal", "scale": {"domain": ["Y12A", "R356A", "WT", "S275L"], "range": ["#1c1ca6", "#36c836", "#ec2c84", "#f97420"]}, "legend": null}
    },
    "layer": [
      {"data": {"name": "e_fit"}, "mark": {"type": "line", "strokeWidth": 2.6}, "encoding": {
        "y": {"field": "fit", "type": "quantitative", "scale": {"type": "log", "domain": [0.01, 2], "nice": false}, "axis": {"title": ["Normalized", "Specific activity"], "values": [0.01,0.02,0.03,0.04,0.05,0.06,0.07,0.08,0.09,0.1,0.2,0.3,0.4,0.5,0.6,0.7,0.8,0.9,1,2], "labelExpr": "datum.value == 1 ? '1' : datum.value == 0.1 ? '0.1' : datum.value == 0.01 ? '0.01' : ''", "tickSize": {"condition": {"test": "indexof([0.01,0.1,1], datum.value) >= 0", "value": 6}, "value": 3}, "labelOverlap": false, "labelFlush": false, "titlePadding": 3}}
      }},
      {"data": {"name": "e_pts"}, "transform": [{"filter": "isValid(datum.lo)"}], "layer": [
        {"mark": {"type": "rule", "strokeWidth": 2}, "encoding": {"y": {"field": "lo", "type": "quantitative", "scale": {"type": "log", "domain": [0.01, 2], "nice": false}}, "y2": {"field": "hi"}}},
        {"mark": {"type": "tick", "orient": "horizontal", "size": 9, "thickness": 2, "opacity": 1}, "encoding": {"y": {"field": "lo", "type": "quantitative", "scale": {"type": "log", "domain": [0.01, 2], "nice": false}}}},
        {"mark": {"type": "tick", "orient": "horizontal", "size": 9, "thickness": 2, "opacity": 1}, "encoding": {"y": {"field": "hi", "type": "quantitative", "scale": {"type": "log", "domain": [0.01, 2], "nice": false}}}}
      ]},
      {"data": {"name": "e_pts"}, "mark": {"type": "point", "filled": true, "size": 60, "opacity": 1}, "encoding": {
        "y": {"field": "activity", "type": "quantitative", "scale": {"type": "log", "domain": [0.01, 2], "nice": false}},
        "shape": {"field": "series", "type": "nominal", "scale": {"domain": ["Y12A", "R356A", "WT", "S275L"], "range": ["circle", "triangle-up", "triangle-down", "square"]}, "legend": null}
      }},
      {"data": {"name": "e_fit"}, "mark": {"type": "point", "filled": true, "opacity": 0}, "encoding": {
        "y": {"field": "fit", "type": "quantitative", "scale": {"type": "log", "domain": [0.01, 2], "nice": false}},
        "shape": {"field": "series", "type": "nominal", "scale": {"domain": ["Y12A", "R356A", "WT", "S275L"], "range": ["M-1,0L1,0M0.6,0A0.6,0.6,0,1,1,-0.6,0A0.6,0.6,0,1,1,0.6,0Z", "M-1,0L1,0M0,-0.65L0.62,0.45L-0.62,0.45Z", "M-1,0L1,0M0,0.65L0.62,-0.45L-0.62,-0.45Z", "M-1,0L1,0M-0.5,-0.5L0.5,-0.5L0.5,0.5L-0.5,0.5Z"]}, "legend": {"orient": "none", "legendX": 111, "legendY": 70, "title": null, "symbolSize": 169, "symbolStrokeWidth": 2, "symbolOpacity": 1, "labelFontSize": 15, "rowPadding": -2.5, "labelOffset": 8}},
        "fill": {"field": "series", "type": "nominal", "scale": {"domain": ["Y12A", "R356A", "WT", "S275L"], "range": ["#1c1ca6", "#36c836", "#ec2c84", "#f97420"]}, "legend": {"orient": "none", "legendX": 111, "legendY": 70, "title": null, "symbolSize": 169, "symbolStrokeWidth": 2, "symbolOpacity": 1, "labelFontSize": 15, "rowPadding": -2.5, "labelOffset": 8}},
        "stroke": {"field": "series", "type": "nominal", "scale": {"domain": ["Y12A", "R356A", "WT", "S275L"], "range": ["#1c1ca6", "#36c836", "#ec2c84", "#f97420"]}, "legend": {"orient": "none", "legendX": 111, "legendY": 70, "title": null, "symbolSize": 169, "symbolStrokeWidth": 2, "symbolOpacity": 1, "labelFontSize": 15, "rowPadding": -2.5, "labelOffset": 8}}
      }}
    ]
  },
  {
    "width": 220, "height": 147,
    "title": {"text": "F", "dx": -95, "dy": -15},
    "resolve": {"scale": {"shape": "independent", "fill": "independent", "stroke": "independent"}},
    "encoding": {
      "x": {"field": "conc", "type": "quantitative", "scale": {"type": "log", "domain": [0.00577, 1.53], "nice": false}, "axis": {"title": "NAD (mM)", "values": [0.006,0.007,0.008,0.009,0.01,0.02,0.03,0.04,0.05,0.06,0.07,0.08,0.09,0.1,0.2,0.3,0.4,0.5,0.6,0.7,0.8,0.9,1], "labelExpr": "datum.value == 1 ? '1' : datum.value == 0.1 ? '0.1' : datum.value == 0.01 ? '0.01' : ''", "tickSize": {"condition": {"test": "indexof([0.01,0.1,1], datum.value) >= 0", "value": 6}, "value": 3}, "labelOverlap": false, "labelFlush": false, "titlePadding": 24}},
      "color": {"field": "series", "type": "nominal", "scale": {"domain": ["Y12A", "R356A", "WT", "S275L"], "range": ["#1c1ca6", "#36c836", "#ec2c84", "#f97420"]}, "legend": null}
    },
    "layer": [
      {"data": {"name": "f_fit"}, "mark": {"type": "line", "strokeWidth": 2.6}, "encoding": {
        "y": {"field": "fit", "type": "quantitative", "scale": {"type": "log", "domain": [0.01, 1.55], "nice": false}, "axis": {"title": ["Normalized", "Specific activity"], "values": [0.01,0.02,0.03,0.04,0.05,0.06,0.07,0.08,0.09,0.1,0.2,0.3,0.4,0.5,0.6,0.7,0.8,0.9,1], "labelExpr": "datum.value == 1 ? '1' : datum.value == 0.1 ? '0.1' : datum.value == 0.01 ? '0.01' : ''", "tickSize": {"condition": {"test": "indexof([0.01,0.1,1], datum.value) >= 0", "value": 6}, "value": 3}, "labelOverlap": false, "labelFlush": false, "titlePadding": 3}}
      }},
      {"data": {"name": "f_pts"}, "transform": [{"filter": "isValid(datum.lo)"}], "layer": [
        {"mark": {"type": "rule", "strokeWidth": 2}, "encoding": {"y": {"field": "lo", "type": "quantitative", "scale": {"type": "log", "domain": [0.01, 1.55], "nice": false}}, "y2": {"field": "hi"}}},
        {"mark": {"type": "tick", "orient": "horizontal", "size": 9, "thickness": 2, "opacity": 1}, "encoding": {"y": {"field": "lo", "type": "quantitative", "scale": {"type": "log", "domain": [0.01, 1.55], "nice": false}}}},
        {"mark": {"type": "tick", "orient": "horizontal", "size": 9, "thickness": 2, "opacity": 1}, "encoding": {"y": {"field": "hi", "type": "quantitative", "scale": {"type": "log", "domain": [0.01, 1.55], "nice": false}}}}
      ]},
      {"data": {"name": "f_pts"}, "mark": {"type": "point", "filled": true, "size": 60, "opacity": 1}, "encoding": {
        "y": {"field": "activity", "type": "quantitative", "scale": {"type": "log", "domain": [0.01, 1.55], "nice": false}},
        "shape": {"field": "series", "type": "nominal", "scale": {"domain": ["Y12A", "R356A", "WT", "S275L"], "range": ["circle", "triangle-up", "triangle-down", "square"]}, "legend": null}
      }},
      {"data": {"name": "f_fit"}, "mark": {"type": "point", "filled": true, "opacity": 0}, "encoding": {
        "y": {"field": "fit", "type": "quantitative", "scale": {"type": "log", "domain": [0.01, 1.55], "nice": false}},
        "shape": {"field": "series", "type": "nominal", "scale": {"domain": ["Y12A", "R356A", "WT", "S275L"], "range": ["M-1,0L1,0M0.6,0A0.6,0.6,0,1,1,-0.6,0A0.6,0.6,0,1,1,0.6,0Z", "M-1,0L1,0M0,-0.65L0.62,0.45L-0.62,0.45Z", "M-1,0L1,0M0,0.65L0.62,-0.45L-0.62,-0.45Z", "M-1,0L1,0M-0.5,-0.5L0.5,-0.5L0.5,0.5L-0.5,0.5Z"]}, "legend": {"orient": "none", "legendX": 130, "legendY": 70, "title": null, "symbolSize": 169, "symbolStrokeWidth": 2, "symbolOpacity": 1, "labelFontSize": 15, "rowPadding": -2.5, "labelOffset": 8}},
        "fill": {"field": "series", "type": "nominal", "scale": {"domain": ["Y12A", "R356A", "WT", "S275L"], "range": ["#1c1ca6", "#36c836", "#ec2c84", "#f97420"]}, "legend": {"orient": "none", "legendX": 130, "legendY": 70, "title": null, "symbolSize": 169, "symbolStrokeWidth": 2, "symbolOpacity": 1, "labelFontSize": 15, "rowPadding": -2.5, "labelOffset": 8}},
        "stroke": {"field": "series", "type": "nominal", "scale": {"domain": ["Y12A", "R356A", "WT", "S275L"], "range": ["#1c1ca6", "#36c836", "#ec2c84", "#f97420"]}, "legend": {"orient": "none", "legendX": 130, "legendY": 70, "title": null, "symbolSize": 169, "symbolStrokeWidth": 2, "symbolOpacity": 1, "labelFontSize": 15, "rowPadding": -2.5, "labelOffset": 8}}
      }}
    ]
  },
  {"width": 10, "height": 112, "data": {"values": []}, "mark": "point"},
  {"width": 10, "height": 112, "data": {"values": []}, "mark": "point"},
  {
    "width": 223, "height": 145,
    "title": {"text": "G", "dx": -86, "dy": -12},
    "resolve": {"scale": {"shape": "independent", "fill": "independent", "stroke": "independent"}},
    "encoding": {
      "x": {"field": "conc", "type": "quantitative", "scale": {"type": "log", "domain": [0.0042, 2.99], "nice": false}, "axis": {"title": "IMP (mM)", "values": [0.005,0.006,0.007,0.008,0.009,0.01,0.02,0.03,0.04,0.05,0.06,0.07,0.08,0.09,0.1,0.2,0.3,0.4,0.5,0.6,0.7,0.8,0.9,1,2], "labelExpr": "datum.value == 1 ? '1' : datum.value == 0.1 ? '0.1' : datum.value == 0.01 ? '0.01' : ''", "tickSize": {"condition": {"test": "indexof([0.01,0.1,1], datum.value) >= 0", "value": 6}, "value": 3}, "labelOverlap": false, "labelFlush": false, "titlePadding": 20}},
      "color": {"field": "series", "type": "nominal", "scale": {"domain": ["-ATP", "+ATP"], "range": ["#1c1ca6", "#ec2c84"]}, "legend": null}
    },
    "layer": [
      {"data": {"name": "g_fit"}, "mark": {"type": "line", "strokeWidth": 2.2}, "encoding": {
        "y": {"field": "fit", "type": "quantitative", "scale": {"type": "log", "domain": [0.245, 1.424], "nice": false}, "axis": {"title": ["Normalized", "Specific activity"], "values": [0.2963,0.4444,0.6667,1,0.26,0.28,0.3,0.32,0.34,0.36,0.38,0.4,0.42,0.46,0.48,0.5,0.52,0.54,0.56,0.58,0.6,0.62,0.64,0.68,0.7,0.72,0.74,0.76,0.78,0.8,0.82,0.84,0.86,0.88,0.9,0.92,0.94,0.96,0.98,1.1,1.2,1.3,1.4], "labelExpr": "datum.value == 1 ? '1' : datum.value == 0.6667 ? '0.6' : datum.value == 0.4444 ? '0.4' : datum.value == 0.2963 ? '0.3' : ''", "tickSize": {"condition": {"test": "indexof([1,0.6667,0.4444,0.2963], datum.value) >= 0", "value": 6}, "value": 3}, "labelOverlap": false, "labelFlush": false, "titlePadding": 3}}
      }},
      {"data": {"name": "g_pts"}, "transform": [{"filter": "isValid(datum.lo)"}], "layer": [
        {"mark": {"type": "rule", "strokeWidth": 2}, "encoding": {"y": {"field": "lo", "type": "quantitative", "scale": {"type": "log", "domain": [0.245, 1.424], "nice": false}}, "y2": {"field": "hi"}}},
        {"mark": {"type": "tick", "orient": "horizontal", "size": 9, "thickness": 2, "opacity": 1}, "encoding": {"y": {"field": "lo", "type": "quantitative", "scale": {"type": "log", "domain": [0.245, 1.424], "nice": false}}}},
        {"mark": {"type": "tick", "orient": "horizontal", "size": 9, "thickness": 2, "opacity": 1}, "encoding": {"y": {"field": "hi", "type": "quantitative", "scale": {"type": "log", "domain": [0.245, 1.424], "nice": false}}}}
      ]},
      {"data": {"name": "g_pts"}, "mark": {"type": "point", "filled": true, "size": 70, "opacity": 1}, "encoding": {
        "y": {"field": "activity", "type": "quantitative", "scale": {"type": "log", "domain": [0.245, 1.424], "nice": false}},
        "shape": {"field": "series", "type": "nominal", "scale": {"domain": ["-ATP", "+ATP"], "range": ["circle", "square"]}, "legend": null}
      }},
      {"data": {"name": "g_fit"}, "mark": {"type": "point", "filled": true, "opacity": 0}, "encoding": {
        "y": {"field": "fit", "type": "quantitative", "scale": {"type": "log", "domain": [0.245, 1.424], "nice": false}},
        "shape": {"field": "series", "type": "nominal", "scale": {"domain": ["-ATP", "+ATP"], "range": ["M-1,0L1,0M0.6,0A0.6,0.6,0,1,1,-0.6,0A0.6,0.6,0,1,1,0.6,0Z", "M-1,0L1,0M-0.5,-0.5L0.5,-0.5L0.5,0.5L-0.5,0.5Z"]}, "legend": {"orient": "none", "legendX": 117, "legendY": 98, "title": null, "symbolSize": 169, "symbolStrokeWidth": 2, "symbolOpacity": 1, "labelFontSize": 15, "rowPadding": -3, "labelOffset": 10}},
        "fill": {"field": "series", "type": "nominal", "scale": {"domain": ["-ATP", "+ATP"], "range": ["#1c1ca6", "#ec2c84"]}, "legend": {"orient": "none", "legendX": 117, "legendY": 98, "title": null, "symbolSize": 169, "symbolStrokeWidth": 2, "symbolOpacity": 1, "labelFontSize": 15, "rowPadding": -3, "labelOffset": 10}},
        "stroke": {"field": "series", "type": "nominal", "scale": {"domain": ["-ATP", "+ATP"], "range": ["#1c1ca6", "#ec2c84"]}, "legend": {"orient": "none", "legendX": 117, "legendY": 98, "title": null, "symbolSize": 169, "symbolStrokeWidth": 2, "symbolOpacity": 1, "labelFontSize": 15, "rowPadding": -3, "labelOffset": 10}}
      }}
    ]
  },
  {
    "width": 220, "height": 146,
    "title": {"text": "H", "dx": -95, "dy": -9},
    "resolve": {"scale": {"shape": "independent", "fill": "independent", "stroke": "independent"}},
    "encoding": {
      "x": {"field": "conc", "type": "quantitative", "scale": {"type": "log", "domain": [0.000425, 1.36], "nice": false}, "axis": {"title": "NAD (mM)", "values": [0.0005,0.0006,0.0007,0.0008,0.0009,0.001,0.002,0.003,0.004,0.005,0.006,0.007,0.008,0.009,0.01,0.02,0.03,0.04,0.05,0.06,0.07,0.08,0.09,0.1,0.2,0.3,0.4,0.5,0.6,0.7,0.8,0.9,1], "labelExpr": "datum.value == 1 ? '1' : datum.value == 0.1 ? '0.1' : datum.value == 0.01 ? '0.01' : datum.value == 0.001 ? '0.001' : ''", "tickSize": {"condition": {"test": "indexof([0.001,0.01,0.1,1], datum.value) >= 0", "value": 6}, "value": 3}, "labelOverlap": false, "labelFlush": false, "titlePadding": 20}},
      "color": {"field": "series", "type": "nominal", "scale": {"domain": ["-ATP", "+ATP"], "range": ["#1c1ca6", "#ec2c84"]}, "legend": null}
    },
    "layer": [
      {"data": {"name": "h_fit"}, "mark": {"type": "line", "strokeWidth": 2.2}, "encoding": {
        "y": {"field": "fit", "type": "quantitative", "scale": {"type": "log", "domain": [0.245, 1.424], "nice": false}, "axis": {"title": ["Normalized", "Specific activity"], "values": [0.2963,0.4444,0.6667,1,0.26,0.28,0.3,0.32,0.34,0.36,0.38,0.4,0.42,0.46,0.48,0.5,0.52,0.54,0.56,0.58,0.6,0.62,0.64,0.68,0.7,0.72,0.74,0.76,0.78,0.8,0.82,0.84,0.86,0.88,0.9,0.92,0.94,0.96,0.98,1.1,1.2,1.3,1.4], "labelExpr": "datum.value == 1 ? '1' : datum.value == 0.6667 ? '0.6' : datum.value == 0.4444 ? '0.4' : datum.value == 0.2963 ? '0.3' : ''", "tickSize": {"condition": {"test": "indexof([1,0.6667,0.4444,0.2963], datum.value) >= 0", "value": 6}, "value": 3}, "labelOverlap": false, "labelFlush": false, "titlePadding": 3}}
      }},
      {"data": {"name": "h_pts"}, "transform": [{"filter": "isValid(datum.lo)"}], "layer": [
        {"mark": {"type": "rule", "strokeWidth": 2}, "encoding": {"y": {"field": "lo", "type": "quantitative", "scale": {"type": "log", "domain": [0.245, 1.424], "nice": false}}, "y2": {"field": "hi"}}},
        {"mark": {"type": "tick", "orient": "horizontal", "size": 9, "thickness": 2, "opacity": 1}, "encoding": {"y": {"field": "lo", "type": "quantitative", "scale": {"type": "log", "domain": [0.245, 1.424], "nice": false}}}},
        {"mark": {"type": "tick", "orient": "horizontal", "size": 9, "thickness": 2, "opacity": 1}, "encoding": {"y": {"field": "hi", "type": "quantitative", "scale": {"type": "log", "domain": [0.245, 1.424], "nice": false}}}}
      ]},
      {"data": {"name": "h_pts"}, "mark": {"type": "point", "filled": true, "size": 70, "opacity": 1}, "encoding": {
        "y": {"field": "activity", "type": "quantitative", "scale": {"type": "log", "domain": [0.245, 1.424], "nice": false}},
        "shape": {"field": "series", "type": "nominal", "scale": {"domain": ["-ATP", "+ATP"], "range": ["circle", "square"]}, "legend": null}
      }},
      {"data": {"name": "h_fit"}, "mark": {"type": "point", "filled": true, "opacity": 0}, "encoding": {
        "y": {"field": "fit", "type": "quantitative", "scale": {"type": "log", "domain": [0.245, 1.424], "nice": false}},
        "shape": {"field": "series", "type": "nominal", "scale": {"domain": ["-ATP", "+ATP"], "range": ["M-1,0L1,0M0.6,0A0.6,0.6,0,1,1,-0.6,0A0.6,0.6,0,1,1,0.6,0Z", "M-1,0L1,0M-0.5,-0.5L0.5,-0.5L0.5,0.5L-0.5,0.5Z"]}, "legend": {"orient": "none", "legendX": 146, "legendY": 97, "title": null, "symbolSize": 169, "symbolStrokeWidth": 2, "symbolOpacity": 1, "labelFontSize": 15, "rowPadding": -3, "labelOffset": 9}},
        "fill": {"field": "series", "type": "nominal", "scale": {"domain": ["-ATP", "+ATP"], "range": ["#1c1ca6", "#ec2c84"]}, "legend": {"orient": "none", "legendX": 146, "legendY": 97, "title": null, "symbolSize": 169, "symbolStrokeWidth": 2, "symbolOpacity": 1, "labelFontSize": 15, "rowPadding": -3, "labelOffset": 9}},
        "stroke": {"field": "series", "type": "nominal", "scale": {"domain": ["-ATP", "+ATP"], "range": ["#1c1ca6", "#ec2c84"]}, "legend": {"orient": "none", "legendX": 146, "legendY": 97, "title": null, "symbolSize": 169, "symbolStrokeWidth": 2, "symbolOpacity": 1, "labelFontSize": 15, "rowPadding": -3, "labelOffset": 9}}
      }}
    ]
  }
]
}
